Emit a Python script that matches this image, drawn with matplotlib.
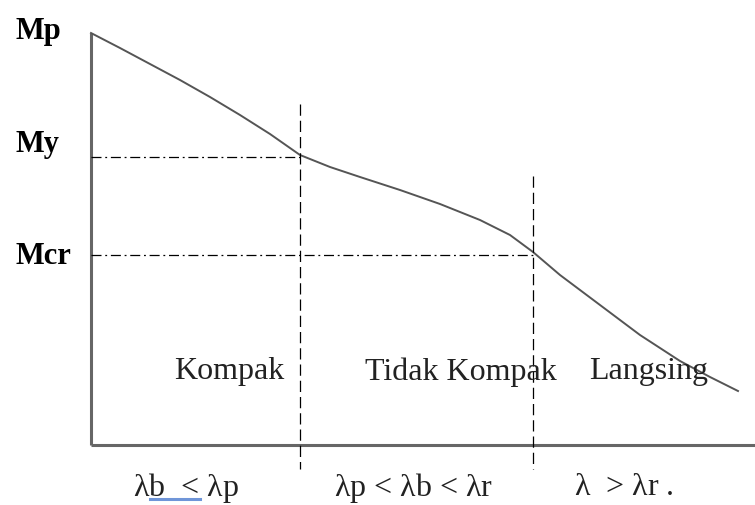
import matplotlib.pyplot as plt

# curve points (pixel-like coordinates, y downward)
curve_x = [91, 120, 150, 180, 210, 240, 270, 300, 330, 360, 400, 440, 480, 510, 533, 560, 600, 640, 680, 710, 738]
curve_y = [34, 49, 65, 81, 98, 116, 135, 156, 168, 178, 191, 205, 221, 236, 253, 276, 306, 336, 362, 378, 392]

my_level = 158
mcr_level = 256
lam_p = 300
lam_r = 533

y_labels = ['Mp', 'My', 'Mcr']
y_label_pos = [31, 144, 257]
regions = ['Kompak', 'Tidak Kompak', 'Langsing']
region_x = [229, 461, 649]
limits = [r'$\lambda$b  < $\lambda$p', r'$\lambda$p < $\lambda$b < $\lambda$r', r'$\lambda$  > $\lambda$r .']
limit_x = [186, 413, 624]

plt.rcParams['font.family'] = ['Liberation Serif', 'DejaVu Serif']
plt.rcParams['mathtext.fontset'] = 'custom'
plt.rcParams['mathtext.rm'] = 'Liberation Serif'
plt.rcParams['mathtext.it'] = 'Liberation Serif'

fig = plt.figure(figsize=(7.55, 5.06), dpi=100)
ax = fig.add_axes([0, 0, 1, 1])
ax.set_xlim(0, 755)
ax.set_ylim(506, 0)
ax.axis('off')

# axes
ax.plot([91, 91], [34, 446], color='#666666', lw=2.2, solid_capstyle='butt')
ax.plot([91, 755], [446, 446], color='#666666', lw=2.2, solid_capstyle='butt')

# curve
ax.plot(curve_x, curve_y, color='#555555', lw=1.4)

# reference lines
ax.plot([91, lam_p], [my_level, my_level], color='black', lw=0.9, ls=(0, (8, 3, 1.5, 3)))
ax.plot([91, lam_r], [mcr_level, mcr_level], color='black', lw=0.9, ls=(0, (8, 3, 1.5, 3)))
ax.plot([lam_p, lam_p], [105, 470], color='black', lw=0.9, ls=(0, (9, 4)))
ax.plot([lam_r, lam_r], [177, 470], color='black', lw=0.9, ls=(0, (9, 4)))

for lab, yy in zip(y_labels, y_label_pos):
    ax.text(15, yy, lab, fontsize=22, fontweight='bold', ha='left', va='center')

for lab, xx in zip(regions, region_x):
    ax.text(xx, 372, lab, fontsize=23, ha='center', va='center', color='#222222')

for lab, xx in zip(limits, limit_x):
    ax.text(xx, 488, lab, fontsize=23, ha='center', va='center', color='#222222')

# spell-check underline
ax.plot([150, 200], [500, 500], color='#6f95d8', lw=2.2)

fig.savefig('out.png', dpi=100)
